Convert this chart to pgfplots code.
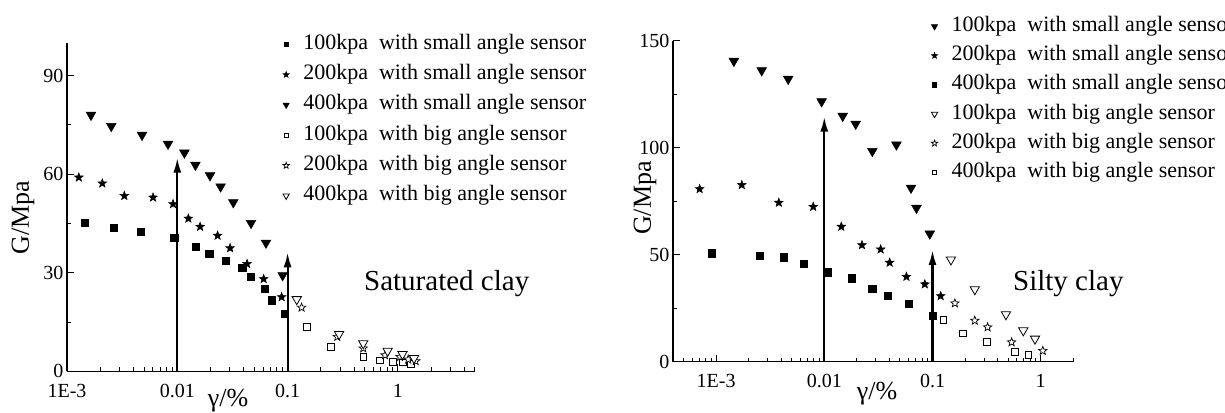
\documentclass[border=0pt]{standalone}
\usepackage{fontspec}
\setmainfont{Liberation Serif}
\usepackage{pgfplots}
\pgfplotsset{compat=1.18}
\usetikzlibrary{arrows.meta}

\pgfdeclareplotmark{fivestar}{%
  \pgfpathmoveto{\pgfpointpolar{90}{\pgfplotmarksize}}%
  \pgfpathlineto{\pgfpointpolar{126}{0.42*\pgfplotmarksize}}%
  \pgfpathlineto{\pgfpointpolar{162}{\pgfplotmarksize}}%
  \pgfpathlineto{\pgfpointpolar{198}{0.42*\pgfplotmarksize}}%
  \pgfpathlineto{\pgfpointpolar{234}{\pgfplotmarksize}}%
  \pgfpathlineto{\pgfpointpolar{270}{0.42*\pgfplotmarksize}}%
  \pgfpathlineto{\pgfpointpolar{306}{\pgfplotmarksize}}%
  \pgfpathlineto{\pgfpointpolar{342}{0.42*\pgfplotmarksize}}%
  \pgfpathlineto{\pgfpointpolar{18}{\pgfplotmarksize}}%
  \pgfpathlineto{\pgfpointpolar{54}{0.42*\pgfplotmarksize}}%
  \pgfpathclose
  \pgfusepathqfillstroke}

\pgfplotsset{
  scale only axis, clip=false,
  axis x line*=bottom, axis y line*=left,
  axis line style={-, line width=1.2pt},
  every tick/.style={black, line width=1pt},
  major tick length=7pt, minor tick length=4pt,
  tick align=inside,
  tick label style={font=\fontsize{20}{20}\selectfont},
  xticklabel style={yshift=-9pt},
  legend cell align=left,
  legend style={draw=none, fill=none, inner sep=0pt, row sep=10.3pt,
    font=\fontsize{22}{22}\selectfont,
    nodes={inner sep=0pt, text height=15pt, text depth=5pt},
    /tikz/every odd column/.append style={column sep=14pt}},
  fsq/.style={only marks, mark=square*, mark size=3.6pt, mark options={fill=black, draw=black, line width=0.6pt}, legend image post style={mark size=2.1pt}},
  osq/.style={only marks, mark=square*, mark size=3.3pt, mark options={fill=white, draw=black, line width=0.8pt}, legend image post style={mark size=2.1pt}},
  fst/.style={only marks, mark=fivestar, mark size=4.6pt, mark options={fill=black, draw=black, line width=0.5pt}, legend image post style={mark size=3.3pt}},
  ost/.style={only marks, mark=fivestar, mark size=4.4pt, mark options={fill=white, draw=black, line width=0.7pt}, legend image post style={mark size=3.3pt}},
  ftr/.style={only marks, mark=triangle*, mark size=5.6pt, mark options={rotate=180, fill=black, draw=black, line width=0.5pt}, legend image post style={mark size=3.6pt}},
  otr/.style={only marks, mark=triangle*, mark size=5.4pt, mark options={rotate=180, fill=white, draw=black, line width=0.8pt}, legend image post style={mark size=3.6pt}},
  arr/.style={forget plot, line width=2.2pt, -{Latex[length=15pt,width=8pt]}},
}
\pgfkeys{/pgf/number format/assume math mode=true}

\begin{document}
\begin{tikzpicture}
\useasboundingbox (0,0) rectangle (1225pt,412pt);

% ---------------- Left: Saturated clay ----------------
\begin{axis}[xmode=log,
  at={(67pt,40.7pt)}, anchor=south west,
  width=408pt, height=328.6pt,
  xmin=1e-3, xmax=5, ymin=0, ymax=100,
  xtick={0.001,0.01,0.1,1}, xticklabels={1E-3,0.01,0.1,1},
  ytick={0,30,60,90}, minor ytick={15,45,75},
  minor xtick={2e-3,3e-3,4e-3,5e-3,6e-3,7e-3,8e-3,9e-3,0.02,0.03,0.04,0.05,0.06,0.07,0.08,0.09,0.2,0.3,0.4,0.5,0.6,0.7,0.8,0.9,2,3,4,5},
  legend style={at={(axis description cs:0.529,1.026)}, anchor=north west},
]
\addplot[fsq] coordinates {(1.46e-3,45.2)(2.67e-3,43.7)(4.66e-3,42.5)(9.4e-3,40.6)(0.0148,37.8)(0.0195,35.7)(0.0276,33.6)(0.0388,31.6)(0.0462,28.8)(0.0623,25.0)(0.0718,21.6)(0.0947,17.4)};
\addlegendentry{100kpa\ \ with small angle sensor}
\addplot[fst] coordinates {(1.28e-3,59.0)(2.09e-3,57.2)(3.31e-3,53.4)(6.03e-3,52.9)(9.15e-3,50.9)(0.0126,46.5)(0.0161,44.0)(0.0232,41.3)(0.0301,37.5)(0.0429,32.7)(0.0607,28.1)(0.0883,22.6)};
\addlegendentry{200kpa\ \ with small angle sensor}
\addplot[ftr] coordinates {(1.65e-3,78.0)(2.52e-3,74.6)(4.79e-3,71.9)(8.24e-3,69.2)(0.0116,66.5)(0.0146,62.8)(0.0198,59.6)(0.0247,56.2)(0.0322,51.4)(0.0466,45.1)(0.0637,39.1)(0.0902,29.2)};
\addlegendentry{400kpa\ \ with small angle sensor}
\addplot[osq] coordinates {(0.149,13.5)(0.246,7.4)(0.485,4.4)(0.688,3.3)(0.896,2.9)(1.11,2.7)(1.31,2.2)};
\addlegendentry{100kpa\ \ with big angle sensor}
\addplot[ost] coordinates {(0.134,19.4)(0.282,10.5)(0.485,7.0)(0.764,4.9)(1.045,4.4)(1.24,3.6)(1.45,3.1)};
\addlegendentry{200kpa\ \ with big angle sensor}
\addplot[otr] coordinates {(0.121,21.9)(0.293,11.3)(0.485,8.5)(0.807,6.2)(1.10,5.2)(1.40,4.0)};
\addlegendentry{400kpa\ \ with big angle sensor}
\addplot[arr] coordinates {(0.01,0)(0.01,65)};
\addplot[arr] coordinates {(0.1,0)(0.1,36.2)};
\node[font=\fontsize{29}{29}\selectfont] at (axis cs:2.77,26.7) {Saturated clay};
\node[font=\fontsize{26}{26}\selectfont] at (axis description cs:0.395,-0.090) {γ/\%};
\node[font=\fontsize{26}{26}\selectfont, rotate=90] at (axis description cs:-0.108,0.468) {G/Mpa};
\end{axis}

% ---------------- Right: Silty clay ----------------
\begin{axis}[xmode=log,
  at={(673pt,50.3pt)}, anchor=south west,
  width=400.3pt, height=321pt,
  xmin=4e-4, xmax=2, ymin=0, ymax=150,
  xtick={0.001,0.01,0.1,1}, xticklabels={1E-3,0.01,0.1,1},
  ytick={0,50,100,150}, minor ytick={25,75,125},
  minor xtick={5e-4,6e-4,7e-4,8e-4,9e-4,2e-3,3e-3,4e-3,5e-3,6e-3,7e-3,8e-3,9e-3,0.02,0.03,0.04,0.05,0.06,0.07,0.08,0.09,0.2,0.3,0.4,0.5,0.6,0.7,0.8,0.9,2},
  legend style={at={(axis description cs:0.645,1.076)}, anchor=north west, row sep=9.2pt},
]
\addplot[ftr] coordinates {(1.46e-3,140.5)(2.64e-3,136.1)(4.64e-3,132.1)(9.45e-3,121.6)(0.0148,114.8)(0.0195,111.1)(0.0278,98.4)(0.0464,101.4)(0.0633,81.2)(0.0711,71.8)(0.0944,59.8)};
\addlegendentry{100kpa\ \ with small angle sensor}
\addplot[fst] coordinates {(7.05e-4,80.7)(1.73e-3,82.6)(3.80e-3,74.3)(7.9e-3,72.4)(0.01436,63.1)(0.0223,54.5)(0.0332,52.5)(0.0402,46.3)(0.0574,39.7)(0.0849,36.2)(0.119,30.7)};
\addlegendentry{200kpa\ \ with small angle sensor}
\addplot[fsq] coordinates {(9.18e-4,50.7)(2.52e-3,49.5)(4.23e-3,48.8)(6.47e-3,45.7)(0.0108,41.8)(0.018,39.0)(0.0278,34.1)(0.0383,30.8)(0.0607,27.1)(0.1014,21.4)};
\addlegendentry{400kpa\ \ with small angle sensor}
\addplot[otr] coordinates {(0.148,47.7)(0.246,33.8)(0.477,22.1)(0.690,14.6)(0.885,10.7)};
\addlegendentry{100kpa\ \ with big angle sensor}
\addplot[ost] coordinates {(0.161,27.3)(0.246,19.2)(0.323,16.1)(0.538,9.1)(1.045,5.1)};
\addlegendentry{200kpa\ \ with big angle sensor}
\addplot[osq] coordinates {(0.126,19.5)(0.192,13.3)(0.320,9.3)(0.578,4.7)(0.767,3.1)};
\addlegendentry{400kpa\ \ with big angle sensor}
\addplot[arr] coordinates {(0.01,0)(0.01,114.5)};
\addplot[arr] coordinates {(0.1,0)(0.1,52.2)};
\node[font=\fontsize{29}{29}\selectfont] at (axis cs:1.80,36.6) {Silty clay};
\node[font=\fontsize{26}{26}\selectfont] at (axis description cs:0.51,-0.100) {γ/\%};
\node[font=\fontsize{26}{26}\selectfont, rotate=90] at (axis description cs:-0.070,0.51) {G/Mpa};
\end{axis}
\end{tikzpicture}
\end{document}
